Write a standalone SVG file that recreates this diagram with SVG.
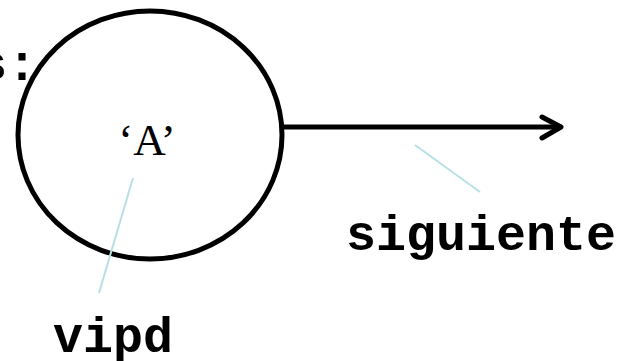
<svg xmlns="http://www.w3.org/2000/svg" width="620" height="361" viewBox="0 0 620 361">
<style>
.mono{font-family:"Liberation Mono","Courier New",monospace;font-weight:bold;font-size:50px;fill:#000}
.serif{font-family:"Liberation Serif","Times New Roman",serif;font-size:45px;fill:#000}
.lead{stroke:#b7e0e6;stroke-width:2;fill:none}
</style>
<rect width="620" height="361" fill="#fff"/>
<text class="mono" x="-23" y="80">s:</text>
<g id="node-A">
<ellipse cx="150" cy="135" rx="132" ry="124" fill="#fff" stroke="#000" stroke-width="5"/>
<text class="serif" x="147" y="155" text-anchor="middle">‘A’</text>
</g>
<g id="connectors">
<line x1="283" y1="127" x2="561" y2="127" stroke="#000" stroke-width="5"/>
<polyline points="542,117 561,127 542,138" fill="none" stroke="#000" stroke-width="5" stroke-linecap="round" stroke-linejoin="round"/>
<line class="lead" x1="415" y1="145" x2="480" y2="192"/>
<line class="lead" x1="133" y1="178" x2="99" y2="293"/>
</g>
<g id="label-siguiente"><text class="mono" x="346" y="250" textLength="270">siguiente</text></g>
<g id="label-vipd"><text class="mono" x="53" y="352">vipd</text></g>
</svg>
